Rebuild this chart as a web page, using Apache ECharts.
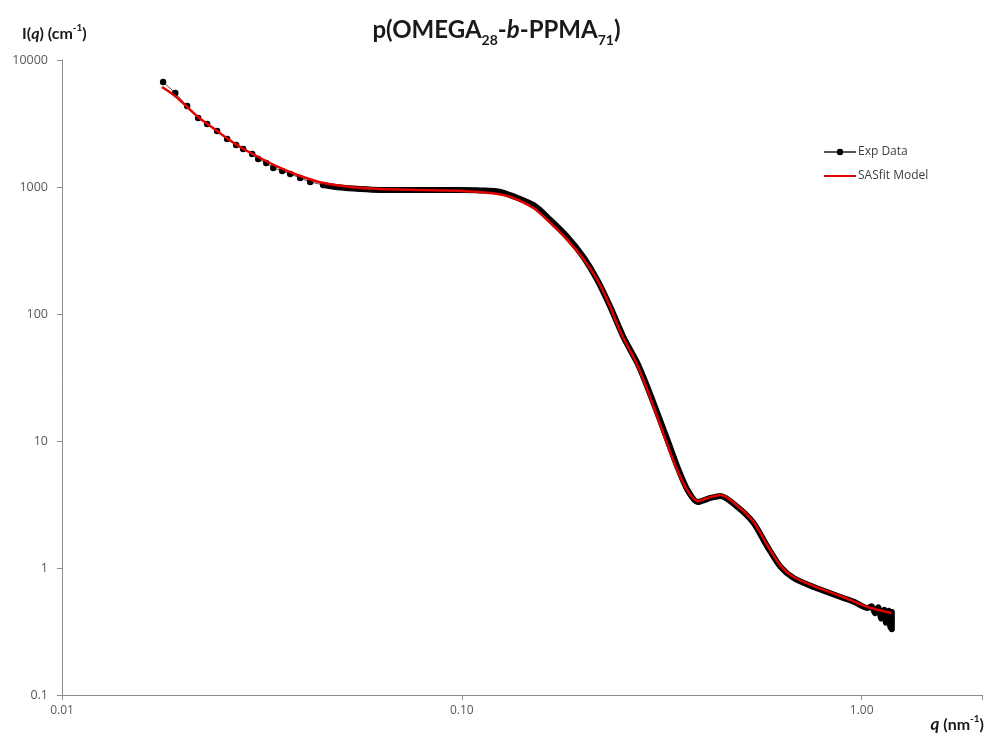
<!DOCTYPE html>
<html>
<head>
<meta charset="utf-8">
<script src="https://cdn.jsdelivr.net/npm/echarts@6/dist/echarts.min.js"></script>
<style>
  html, body { margin: 0; padding: 0; background: #fff; }
  #chart { width: 993px; height: 734px; }
</style>
</head>
<body>
<div id="chart"></div>
<script>
const expQ = [0.0179, 0.0192, 0.02056, 0.02191, 0.02307, 0.02443, 0.02588, 0.02726, 0.02838, 0.0299,
    0.03095, 0.03242, 0.03375, 0.03554, 0.03722, 0.03942, 0.04176, 0.045,
    0.0497, 0.0557, 0.0625, 0.0702, 0.0834, 0.0998, 0.1112, 0.1248, 0.151, 0.1665, 0.1837, 0.2014,
    0.2183, 0.2354, 0.2536, 0.2748, 0.2912, 0.3084, 0.3268, 0.3462, 0.3669, 0.3885, 0.419, 0.4438,
    0.4894, 0.5367, 0.5821, 0.6269, 0.6758, 0.7586, 0.8858, 0.96, 1.035,
    1.06, 1.08, 1.10, 1.12, 1.14, 1.15, 1.17, 1.18, 1.19, 1.19];
const expI = [6710, 5500, 4340, 3495, 3135, 2760, 2390, 2140, 1990, 1820,
    1662, 1545, 1413, 1337, 1266, 1177, 1095, 1037,
    990, 964, 947, 945, 945, 945, 940, 915, 722, 550, 404, 281,
    185, 113, 65.9, 41.1, 26.6, 16.6, 10.2, 6.24, 4.11, 3.31, 3.56, 3.69,
    3.02, 2.26, 1.46, 1.02, 0.834, 0.708, 0.591, 0.54, 0.484,
    0.50, 0.44, 0.49, 0.40, 0.47, 0.37, 0.46, 0.34, 0.45, 0.33];

// SASfit model curve
const modelQ = [0.01779, 0.01918, 0.02056, 0.02191, 0.02348, 0.02559, 0.0279, 0.03131, 0.03513, 0.03942,
    0.045, 0.0526, 0.0625, 0.0787, 0.0998, 0.1178, 0.1323, 0.151, 0.1665, 0.1837, 0.2014, 0.2183,
    0.2339, 0.2506, 0.2718, 0.2879, 0.305, 0.3232, 0.3423, 0.3648, 0.3885, 0.419, 0.4438, 0.4894,
    0.5367, 0.5821, 0.6269, 0.6758, 0.7586, 0.8858, 1.035, 1.189];
const modelI = [6130, 5205, 4265, 3557, 3021, 2475, 2065, 1692, 1413, 1221,
    1075, 1000, 964, 947, 930, 897, 834, 683, 521, 382, 271, 185,
    118, 69.6, 42.7, 27.6, 16.9, 10.2, 6.36, 4.19, 3.37, 3.62, 3.76, 3.08,
    2.30, 1.49, 1.04, 0.849, 0.721, 0.602, 0.493, 0.442];

const fontName = 'Lato, "Open Sans", sans-serif';
const tickFont = '"Open Sans", Lato, sans-serif';
const labelColor = '#595959';
const axisColor = '#8c8c8c';
const textDark = '#1a1a1a';

// low q: separate markers, higher q: markers merge into a thick band
const expPoints = expQ.map((q, i) => [q, expI[i]]);
const expSparse = expPoints.filter(p => p[0] <= 0.0451);
const expDense = expPoints.filter(p => p[0] >= 0.0449);
const modelPoints = modelQ.map((q, i) => [q, modelI[i]]);

const decadeLabel = (v, digits) => {
    const e = Math.log10(v);
    if (Math.abs(e - Math.round(e)) > 1e-6) return '';
    const d = Math.pow(10, Math.round(e));
    return digits !== undefined ? d.toFixed(digits) : (d < 1 ? d.toFixed(1) : String(Math.round(d)));
};

const chart = echarts.init(document.getElementById('chart'));

const option = {
    animation: false,
    backgroundColor: '#ffffff',
    title: [{
        text: 'p(OMEGA{sub|28}-{ib|b}-PPMA{sub|71})',
        left: 'center',
        top: 9,
        textStyle: {
            fontFamily: fontName, fontSize: 24, fontWeight: 'bold', color: textDark, lineHeight: 33,
            rich: {
                sub: { fontFamily: fontName, fontSize: 14, fontWeight: 'bold', color: textDark, verticalAlign: 'bottom', lineHeight: 16 },
                ib: { fontFamily: fontName, fontSize: 24, fontWeight: 'bold', fontStyle: 'italic', color: textDark, lineHeight: 33 }
            }
        }
    }, {
        text: 'I({iq|q}) (cm{sup|-1})',
        left: 17,
        top: 18,
        textStyle: {
            fontFamily: fontName, fontSize: 16, fontWeight: 'bold', color: textDark, lineHeight: 22,
            rich: {
                iq: { fontFamily: fontName, fontSize: 16, fontWeight: 'bold', fontStyle: 'italic', color: textDark, lineHeight: 22 },
                sup: { fontFamily: fontName, fontSize: 10, fontWeight: 'bold', color: textDark, verticalAlign: 'top', lineHeight: 12 }
            }
        }
    }, {
        text: '{iq|q} (nm{sup|-1})',
        right: 4,
        top: 709,
        textStyle: {
            fontFamily: fontName, fontSize: 16, fontWeight: 'bold', color: textDark, lineHeight: 22,
            rich: {
                iq: { fontFamily: fontName, fontSize: 17, fontWeight: 'bold', fontStyle: 'italic', color: textDark, lineHeight: 22 },
                sup: { fontFamily: fontName, fontSize: 10, fontWeight: 'bold', color: textDark, verticalAlign: 'top', lineHeight: 12 }
            }
        }
    }],
    legend: {
        orient: 'vertical',
        left: 818,
        top: 141,
        itemWidth: 32,
        itemHeight: 8,
        itemGap: 12,
        data: [
            { name: 'Exp Data' },
            { name: 'SASfit Model', itemStyle: { color: 'rgba(0,0,0,0)', borderWidth: 0 } }
        ],
        textStyle: { fontFamily: tickFont, fontSize: 12, color: '#404040', padding: [0, 0, 0, -3] }
    },
    grid: { left: 62, right: 11, top: 60, bottom: 39, containLabel: false },
    xAxis: {
        type: 'log',
        logBase: 10,
        min: 0.01,
        max: 2,
        splitLine: { show: false },
        axisLine: { lineStyle: { color: axisColor, width: 1 } },
        axisTick: { show: true, length: 5, lineStyle: { color: axisColor } },
        axisLabel: {
            color: labelColor, fontFamily: tickFont, fontSize: 12, margin: 10,
            formatter: v => decadeLabel(v, 2)
        },
        minorTick: { show: false }
    },
    yAxis: {
        type: 'log',
        logBase: 10,
        min: 0.1,
        max: 10000,
        splitNumber: 5,
        splitLine: { show: false },
        axisLine: { show: true, lineStyle: { color: axisColor, width: 1 } },
        axisTick: { show: true, length: 5, lineStyle: { color: axisColor } },
        axisLabel: {
            color: labelColor, fontFamily: tickFont, fontSize: 12.5, margin: 14,
            formatter: v => decadeLabel(v)
        }
    },
    series: [{
        name: 'Exp Data',
        type: 'line',
        data: expSparse,
        symbol: 'circle',
        symbolSize: 6.5,
        showSymbol: true,
        itemStyle: { color: '#000000' },
        lineStyle: { color: '#555555', width: 1 },
        z: 2
    }, {
        name: 'Exp Data',
        type: 'line',
        data: expDense,
        symbol: 'none',
        smooth: 0.25,
        itemStyle: { color: '#000000' },
        lineStyle: { color: '#000000', width: 6, join: 'round', cap: 'round' },
        z: 2
    }, {
        name: 'SASfit Model',
        type: 'line',
        data: modelPoints,
        symbol: 'none',
        smooth: 0.3,
        itemStyle: { color: '#e00000' },
        lineStyle: { color: '#e00000', width: 2.5 },
        z: 3
    }]
};

chart.setOption(option);
</script>
</body>
</html>
